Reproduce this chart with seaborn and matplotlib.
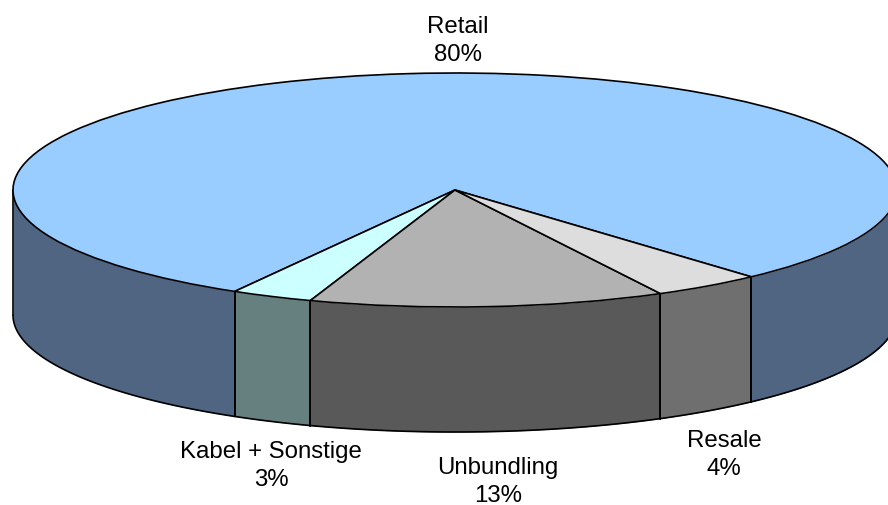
import matplotlib
matplotlib.use("Agg")
import matplotlib.pyplot as plt
import numpy as np
import seaborn as sns

# Pie data
labels = ["Retail", "Kabel + Sonstige", "Unbundling", "Resale"]
shares = [80, 3, 13, 4]
top_colors = ["#99CCFF", "#CCFFFF", "#B2B2B2", "#DDDDDD"]
side_colors = ["#4F6582", "#668080", "#595959", "#6F6F6F"]

START_ANGLE = -47.9
WIDTH, HEIGHT = 888, 506
CX, CY = 455, 191  # ellipse centre in pixels
RX, RY = 442, 117  # ellipse radii in pixels
DEPTH = 125 / RY  # wall height in pie units

sns.set_theme(style="white")
plt.rcParams["font.family"] = ["Liberation Sans", "DejaVu Sans"]

fig = plt.figure(figsize=(WIDTH / 100, HEIGHT / 100), dpi=100)
ax = fig.add_axes([0, 0, 1, 1])

ax.pie(shares, colors=top_colors, startangle=START_ANGLE, radius=1,
       center=(0, 0), counterclock=True,
       wedgeprops={"edgecolor": "black", "linewidth": 1.2, "zorder": 3})


def draw_wall(theta1, theta2, color):
    """ Draws the outer wall of a slice, front part only. """
    # Keep only the part of the slice that faces the viewer (180-360 deg).
    for shift in (-360, 0, 360):
        low = max(theta1 + shift, 180)
        high = min(theta2 + shift, 360)
        if low >= high:
            continue
        t = np.radians(np.linspace(low, high, 120))
        xs = np.cos(t)
        ys = np.sin(t)
        ax.fill_between(xs, ys, ys - DEPTH, color=color, linewidth=0, zorder=1)
        ax.plot(xs, ys - DEPTH, color="black", lw=1.2, zorder=2)
        ax.plot([xs[0], xs[0]], [ys[0], ys[0] - DEPTH], color="black",
                lw=1.2, zorder=2)
        ax.plot([xs[-1], xs[-1]], [ys[-1], ys[-1] - DEPTH], color="black",
                lw=1.2, zorder=2)


# Walls follow the same angles as the pie slices.
angle = START_ANGLE
for share, color in zip(shares, side_colors):
    step = share / sum(shares) * 360
    draw_wall(angle, angle + step, color)
    angle += step

# Pixel window mapped onto pie units, squashes the circle into an ellipse.
ax.set_aspect("auto")
ax.set_xlim(-CX / RX, (WIDTH - CX) / RX)
ax.set_ylim((CY - HEIGHT) / RY, CY / RY)
ax.axis("off")

# Label centres in pixels.
label_pos = [(458, 41), (271, 466), (498, 482), (724, 455)]
for name, share, (px, py) in zip(labels, shares, label_pos):
    ax.text(px / WIDTH, 1 - py / HEIGHT, f"{name}\n{share}%",
            transform=ax.transAxes, ha="center", va="center",
            fontsize=17.3, color="black", linespacing=1.36)

fig.savefig("out.png", dpi=100)
